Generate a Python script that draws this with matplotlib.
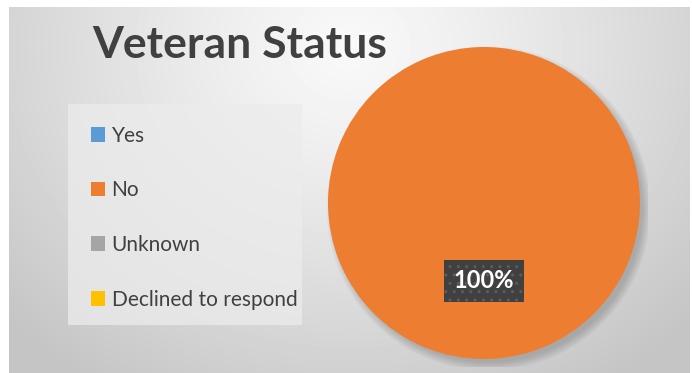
import numpy as np
import matplotlib
matplotlib.use("Agg")
import matplotlib.pyplot as plt
import matplotlib.patches as patches

# Survey answers
categories = ["Yes", "No", "Unknown", "Declined to respond"]
percentages = [0, 100, 0, 0]
colors = ["#5B9BD5", "#ED7D31", "#A5A5A5", "#FFC000"]
title = "Veteran Status"

W, H = 692, 373
fig = plt.figure(figsize=(W / 100, H / 100), dpi=100)
fig.patch.set_facecolor("white")

# Chart area background with a soft radial gradient
bg = fig.add_axes([9 / W, 0, (690 - 9) / W, (H - 7) / H])
bg.set_axis_off()
yy, xx = np.mgrid[0:366, 0:681]
d = np.sqrt(((xx - 340) / 1.15) ** 2 + (yy - 40) ** 2)
shade = np.clip(0.975 - 0.19 * (d / 380) ** 1.2, 0.77, 0.98)
bg.imshow(shade, cmap="gray", vmin=0, vmax=1, aspect="auto",
          extent=[0, 681, 366, 0], interpolation="bilinear")
bg.set_xlim(0, 681)
bg.set_ylim(366, 0)

# Legend panel
bg.add_patch(patches.Rectangle((68 - 9, 104 - 7), 234, 221,
                               facecolor="#ececec", alpha=0.75, lw=0))

fig.text(92 / W, 1 - 45 / H, title, fontsize=32, fontweight="bold",
         color="#404040", family="Lato", va="center", ha="left")

# Pie
ax = fig.add_axes([0, 0, 1, 1])
ax.set_axis_off()

# soft shadow behind the pie, offset down and right
for i in range(10):
    r = 0.985 + 0.006 * i
    ax.add_patch(patches.Circle((0.03, -0.035), r, facecolor="#666666",
                                alpha=0.04, lw=0, zorder=0))

wedges, _, autotexts = ax.pie(
    percentages, colors=colors, startangle=90, counterclock=False,
    autopct=lambda p: f"{p:.0f}%" if p > 0 else "", pctdistance=0.5,
    wedgeprops=dict(linewidth=0), radius=1.0,
    textprops=dict(color="white", fontsize=17, fontweight="bold", family="Lato"))
for t in autotexts:
    t.set_zorder(5)
    t.set_bbox(dict(boxstyle="square,pad=0.42", facecolor="#404040",
                    edgecolor="#5c5c5c", hatch="..", linewidth=0))
ax.set_xlim(-1.05, 1.05)
ax.set_ylim(-1.05, 1.05)
ax.set_aspect("equal")
ax.set_position([(328 - 0.05 * 156) / W, (H - 359 - 0.05 * 156) / H,
                 (312 + 0.1 * 156) / W, (312 + 0.1 * 156) / H])

leg = fig.legend(wedges, categories, loc="upper left",
                 bbox_to_anchor=(72 / W, 1 - 107 / H), frameon=False,
                 handlelength=0.7, handleheight=0.7, handletextpad=0.3,
                 labelspacing=1.66, prop=dict(family="Lato", size=15))
for t in leg.get_texts():
    t.set_color("#404040")

fig.savefig("out.png", dpi=100)
